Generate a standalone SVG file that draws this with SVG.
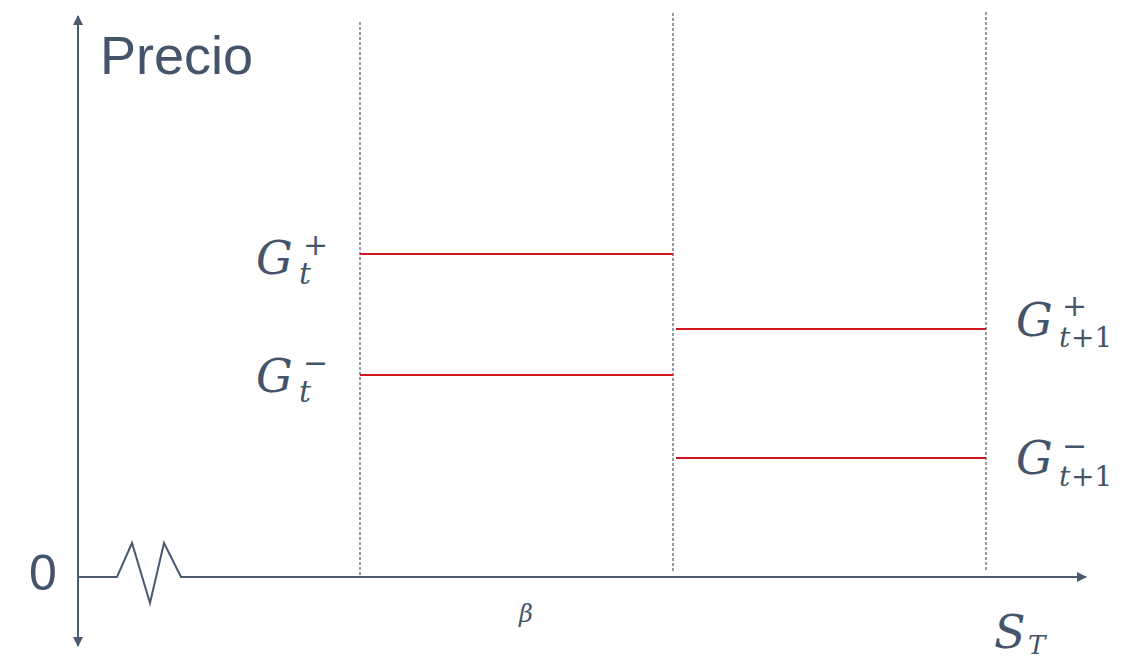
<svg xmlns="http://www.w3.org/2000/svg" width="1130" height="658" viewBox="0 0 1130 658">
<defs>
<style>
.axis{stroke:#4A5A70;stroke-width:2;fill:none}
.dash{stroke:#4A5A70;stroke-width:1.2;stroke-dasharray:3,2;fill:none}
.red{stroke:#D0161E;stroke-width:2;fill:none}
.lbl{font-family:"Liberation Sans",Arial,sans-serif;fill:#44546A}
.math{font-family:"DejaVu Serif","Liberation Serif",serif;font-style:italic;fill:#44546A}
.mathu{font-family:"DejaVu Serif","Liberation Serif",serif;fill:#44546A}
</style>
<marker id="arr" viewBox="0 0 10 10" refX="9" refY="5" markerWidth="5" markerHeight="5" orient="auto-start-reverse" markerUnits="strokeWidth">
<path d="M0,0 L10,5 L0,10 z" fill="#4A5A70"/>
</marker>
</defs>
<rect width="1130" height="658" fill="#fff"/>
<g id="connectors">
<line class="axis" x1="78" y1="646" x2="78" y2="16" marker-end="url(#arr)" marker-start="url(#arr)"/>
<polyline class="axis" points="78,577 117,577 132,543 150,603 164,543 181,577 1086,577" marker-end="url(#arr)"/>
<line class="dash" x1="360" y1="22" x2="360" y2="577"/>
<line class="dash" x1="673" y1="13" x2="673" y2="572"/>
<line class="dash" x1="986" y1="12" x2="986" y2="570"/>
<line class="red" x1="360" y1="254" x2="673" y2="254"/>
<line class="red" x1="360" y1="375" x2="673" y2="375"/>
<line class="red" x1="676" y1="329" x2="986" y2="329"/>
<line class="red" x1="676" y1="458" x2="986" y2="458"/>
</g>
<g id="label-precio"><text class="lbl" x="100" y="74" font-size="54">Precio</text></g>
<g id="label-zero"><text class="lbl" x="29" y="590" font-size="50">0</text></g>
<g id="label-gt-plus">
<text class="math" x="256" y="274" font-size="46">G</text>
<text class="math" x="299" y="284" font-size="30">t</text>
<text class="mathu" x="303" y="255" font-size="30">+</text>
</g>
<g id="label-gt-minus">
<text class="math" x="256" y="392" font-size="46">G</text>
<text class="math" x="299" y="402" font-size="30">t</text>
<text class="mathu" x="303" y="373" font-size="30">−</text>
</g>
<g id="label-gt1-plus">
<text class="math" x="1016" y="336" font-size="46">G</text>
<text class="math" x="1059" y="347" font-size="28">t</text>
<text class="mathu" x="1071" y="347" font-size="28">+1</text>
<text class="mathu" x="1062" y="316" font-size="30">+</text>
</g>
<g id="label-gt1-minus">
<text class="math" x="1016" y="474" font-size="46">G</text>
<text class="math" x="1059" y="486" font-size="28">t</text>
<text class="mathu" x="1071" y="486" font-size="28">+1</text>
<text class="mathu" x="1062" y="456" font-size="30">−</text>
</g>
<g id="label-beta"><text class="math" x="519" y="622" font-size="24">β</text></g>
<g id="label-st">
<text class="math" x="994" y="648" font-size="46">S</text>
<text class="math" x="1028" y="654" font-size="26">T</text>
</g>
</svg>
